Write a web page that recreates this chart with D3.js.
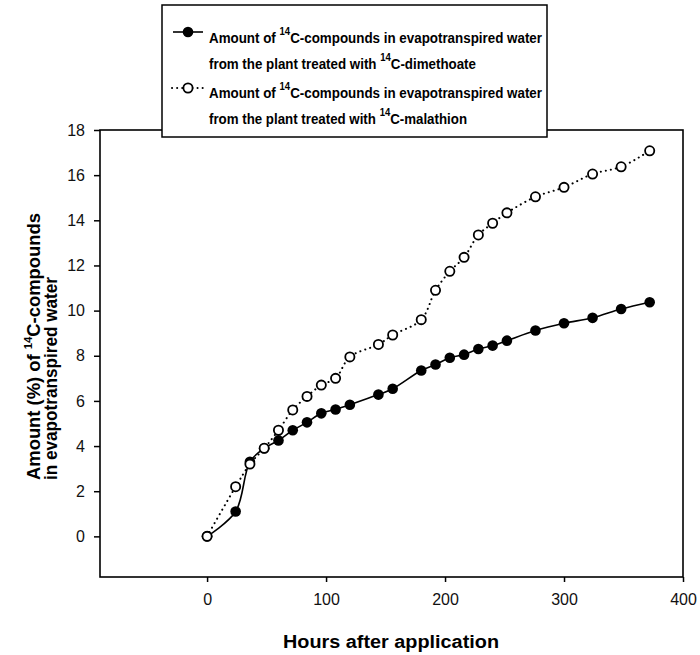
<!DOCTYPE html>
<html>
<head>
<meta charset="utf-8">
<script src="https://cdn.jsdelivr.net/npm/d3@7"></script>
<style>
  body { margin: 0; background: #fff; }
  svg { font-family: "Liberation Sans", Arial, sans-serif; }
</style>
</head>
<body>
<svg id="chart" width="700" height="655"></svg>
<script>
// hours after application
const hours = [0, 24, 36, 48, 60, 72, 84, 96, 108, 120, 144, 156, 180, 192, 204, 216, 228, 240, 252, 276, 300, 324, 348, 372];
// % of 14C-compounds, dimethoate (filled) and malathion (open)
const dimethoate = [0, 1.1, 3.3, 3.9, 4.25, 4.7, 5.05, 5.45, 5.62, 5.83, 6.28, 6.54, 7.35, 7.61, 7.91, 8.05, 8.3, 8.45, 8.67, 9.12, 9.44, 9.68, 10.07, 10.37];
const malathion = [0, 2.2, 3.2, 3.9, 4.7, 5.6, 6.2, 6.7, 7.0, 7.95, 8.5, 8.92, 9.6, 10.9, 11.74, 12.36, 13.35, 13.87, 14.33, 15.04, 15.46, 16.05, 16.37, 17.08];
const xTicks = [0, 100, 200, 300, 400];
const yTicks = [0, 2, 4, 6, 8, 10, 12, 14, 16, 18];

const svg = d3.select('#chart');

const x = d3.scaleLinear().domain([-90, 400]).range([100, 683]);
const y = d3.scaleLinear().domain([-1.8, 18]).range([577, 130]);

// frame
svg.append('rect')
  .attr('x', 100).attr('y', y(18))
  .attr('width', 583).attr('height', 577 - y(18))
  .attr('fill', 'none').attr('stroke', '#000').attr('stroke-width', 1.6);

// axes
const xAxis = svg.append('g')
  .attr('transform', 'translate(0,577)')
  .call(d3.axisBottom(x).tickValues(xTicks).tickSize(5).tickPadding(12));
const yAxis = svg.append('g')
  .attr('transform', 'translate(100,0)')
  .call(d3.axisLeft(y).tickValues(yTicks).tickSize(6).tickPadding(9));
[xAxis, yAxis].forEach(g => {
  g.select('.domain').remove();
  g.selectAll('line').attr('stroke', '#000').attr('stroke-width', 1.5);
  g.selectAll('text').attr('font-size', 16).attr('fill', '#111')
    .attr('font-family', '"Liberation Sans", Arial, sans-serif');
});

const dataD = hours.map((h, i) => ({ h, v: dimethoate[i] }));
const dataM = hours.map((h, i) => ({ h, v: malathion[i] }));

const line = d3.line()
  .x(d => x(d.h))
  .y(d => y(d.v))
  .curve(d3.curveCatmullRom.alpha(0.5));

// dimethoate: solid line, filled circles
svg.append('path')
  .datum(dataD)
  .attr('d', line)
  .attr('fill', 'none')
  .attr('stroke', '#000')
  .attr('stroke-width', 1.6);
svg.append('g').selectAll('circle')
  .data(dataD)
  .join('circle')
  .attr('cx', d => x(d.h))
  .attr('cy', d => y(d.v))
  .attr('r', 5.3)
  .attr('fill', '#000');

// malathion: dotted line, open circles
svg.append('path')
  .datum(dataM)
  .attr('d', line)
  .attr('fill', 'none')
  .attr('stroke', '#000')
  .attr('stroke-width', 2)
  .attr('stroke-linecap', 'round')
  .attr('stroke-dasharray', '0.1,5');
svg.append('g').selectAll('circle')
  .data(dataM)
  .join('circle')
  .attr('cx', d => x(d.h))
  .attr('cy', d => y(d.v))
  .attr('r', 4.6)
  .attr('fill', '#fff')
  .attr('stroke', '#000')
  .attr('stroke-width', 1.8);

// axis titles
svg.append('text')
  .attr('x', 391).attr('y', 648)
  .attr('text-anchor', 'middle')
  .attr('font-size', 18).attr('font-weight', 'bold')
  .attr('textLength', 216).attr('lengthAdjust', 'spacingAndGlyphs')
  .text('Hours after application');

const yt = svg.append('g').attr('transform', 'translate(0,480) rotate(-90)');
const yl1 = yt.append('text').attr('x', 0).attr('y', 40)
  .attr('font-size', 18).attr('font-weight', 'bold')
  .attr('textLength', 267).attr('lengthAdjust', 'spacingAndGlyphs');
yl1.append('tspan').text('Amount (%) of  ');
yl1.append('tspan').attr('font-size', 11).attr('dy', -8).text('14');
yl1.append('tspan').attr('dy', 8).text('C-compounds');
yt.append('text').attr('x', 0).attr('y', 57)
  .attr('font-size', 18).attr('font-weight', 'bold')
  .attr('textLength', 203).attr('lengthAdjust', 'spacingAndGlyphs')
  .text('in evapotranspired water');

// legend
const legend = svg.append('g');
legend.append('rect')
  .attr('x', 162).attr('y', 5).attr('width', 385).attr('height', 132)
  .attr('fill', '#fff').attr('stroke', '#000').attr('stroke-width', 1.5);

legend.append('line')
  .attr('x1', 173).attr('x2', 203).attr('y1', 32).attr('y2', 32)
  .attr('stroke', '#000').attr('stroke-width', 1.6);
legend.append('circle').attr('cx', 188).attr('cy', 32).attr('r', 5.3).attr('fill', '#000');

legend.append('line')
  .attr('x1', 172).attr('x2', 204).attr('y1', 88).attr('y2', 88)
  .attr('stroke', '#000').attr('stroke-width', 2)
  .attr('stroke-linecap', 'round').attr('stroke-dasharray', '0.1,5');
legend.append('circle').attr('cx', 188).attr('cy', 88).attr('r', 4.6)
  .attr('fill', '#fff').attr('stroke', '#000').attr('stroke-width', 1.8);

const legendLines = [
  { y: 43, pre: 'Amount of ', post: 'C-compounds in evapotranspired water', w: 333 },
  { y: 69, pre: 'from the plant treated with ', post: 'C-dimethoate', w: 267 },
  { y: 98, pre: 'Amount of ', post: 'C-compounds in evapotranspired water', w: 333 },
  { y: 124, pre: 'from the plant treated with ', post: 'C-malathion', w: 258 }
];
legendLines.forEach(l => {
  const t = legend.append('text')
    .attr('x', 209).attr('y', l.y)
    .attr('font-size', 14).attr('font-weight', 'bold')
    .attr('textLength', l.w).attr('lengthAdjust', 'spacingAndGlyphs');
  t.append('tspan').text(l.pre + ' ');
  t.append('tspan').attr('font-size', 10).attr('dy', -8).text('14');
  t.append('tspan').attr('dy', 8).text(l.post);
});
</script>
</body>
</html>
